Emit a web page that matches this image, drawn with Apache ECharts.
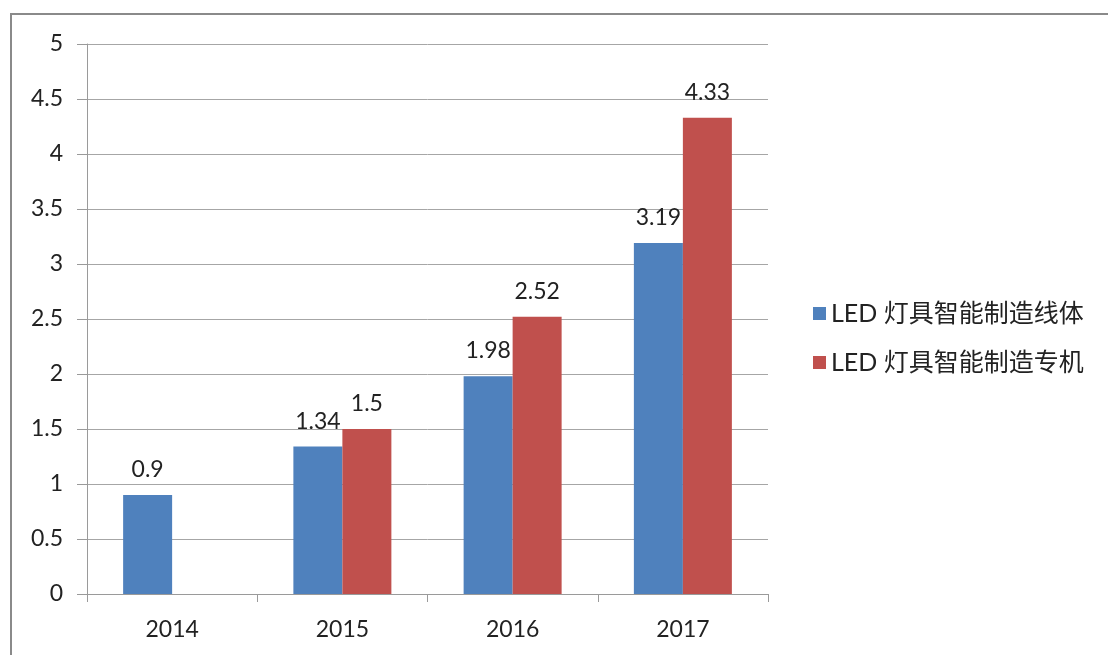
<!DOCTYPE html>
<html>
<head>
<meta charset="utf-8">
<script src="https://cdn.jsdelivr.net/npm/echarts@6/dist/echarts.min.js"></script>
<style>
  html, body { margin: 0; padding: 0; background: #fff; }
  #chart { width: 1108px; height: 655px; }
</style>
</head>
<body>
<div id="chart"></div>
<script>
const years = ['2014', '2015', '2016', '2017']
const lineBody = [0.9, 1.34, 1.98, 3.19]
const special = [null, 1.5, 2.52, 4.33]
const seriesNames = ['LED 灯具智能制造线体', 'LED 灯具智能制造专机']

const font = 'Lato, "Noto Sans CJK SC", sans-serif'

const labelStyle = {
  show: true,
  position: 'top',
  distance: 14,
  fontSize: 23,
  fontFamily: font,
  color: '#222',
}

const chart = echarts.init(document.getElementById('chart'))
chart.setOption({
  animation: false,
  // 外框
  graphic: [
    {
      type: 'rect',
      shape: { x: 11, y: 14, width: 1120, height: 700 },
      style: { fill: 'none', stroke: '#8a8a8a', lineWidth: 2 },
    },
  ],
  grid: {
    left: 87,
    top: 44,
    width: 681,
    height: 550,
  },
  legend: {
    orient: 'vertical',
    left: 808,
    top: 296,
    itemWidth: 13,
    itemHeight: 13,
    itemGap: 24,
    icon: 'rect',
    textStyle: {
      fontSize: 25,
      fontFamily: font,
      color: '#222',
    },
  },
  xAxis: {
    type: 'category',
    data: years,
    axisLine: { lineStyle: { color: '#9a9a9a', width: 1 } },
    axisTick: { show: true, length: 8, lineStyle: { color: '#9a9a9a' } },
    axisLabel: {
      fontSize: 23,
      fontFamily: font,
      color: '#222',
      margin: 24,
    },
  },
  yAxis: {
    type: 'value',
    min: 0,
    max: 5,
    interval: 0.5,
    axisLine: { show: true, lineStyle: { color: '#9a9a9a', width: 1 } },
    axisTick: { show: true, length: 10, lineStyle: { color: '#9a9a9a' } },
    axisLabel: {
      fontSize: 23,
      fontFamily: font,
      color: '#222',
      margin: 24,
    },
    splitLine: { lineStyle: { color: '#a6a6a6', width: 1 } },
  },
  series: [
    {
      name: seriesNames[0],
      type: 'bar',
      data: lineBody,
      barWidth: 49,
      barGap: '0%',
      itemStyle: { color: '#4f81bd' },
      label: labelStyle,
    },
    {
      name: seriesNames[1],
      type: 'bar',
      data: special,
      barWidth: 49,
      itemStyle: { color: '#c0504d' },
      label: labelStyle,
    },
  ],
})
</script>
</body>
</html>
